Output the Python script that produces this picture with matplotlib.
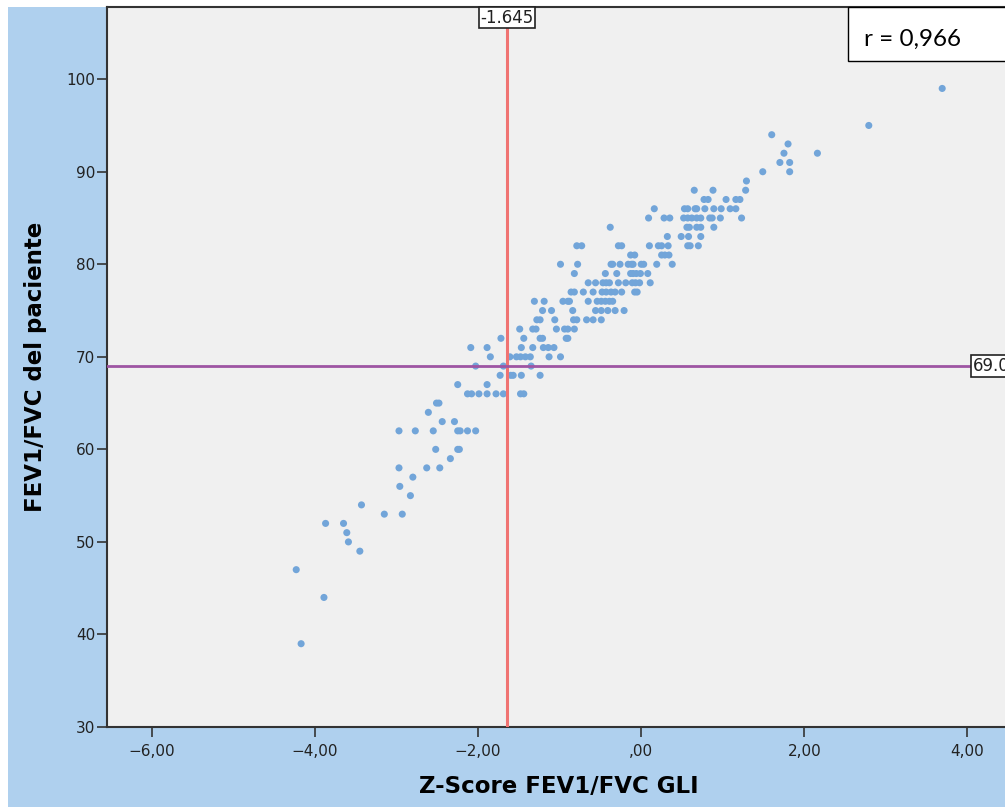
import numpy as np
import matplotlib
matplotlib.use('Agg')
import matplotlib.pyplot as plt
from matplotlib.patches import Rectangle

# FEV1/FVC del paciente: one entry per row of points
ratio_rows = [99, 95, 94, 93, 92, 91, 90, 89, 88, 87, 86, 85, 84, 83, 82, 81, 80,
              79, 78, 77, 76, 75, 74, 73, 72, 71, 70, 69, 68, 67, 66, 65, 64, 63,
              62, 60, 59, 58, 57, 56, 55, 54, 53, 52, 51, 50, 49, 47, 44, 39]
# Z-score FEV1/FVC GLI of the points in each row
z_rows = [
    [3.69],
    [2.79],
    [1.60],
    [1.80],
    [1.75, 2.16],
    [1.70, 1.82],
    [1.49, 1.82],
    [1.29],
    [0.65, 0.88, 1.28],
    [0.77, 0.82, 1.04, 1.16, 1.21],
    [0.16, 0.53, 0.57, 0.66, 0.68, 0.78, 0.89, 0.98, 1.09, 1.16],
    [0.09, 0.28, 0.35, 0.52, 0.57, 0.62, 0.68, 0.73, 0.84, 0.87, 0.97, 1.23],
    [-0.38, 0.56, 0.59, 0.68, 0.73, 0.89],
    [0.32, 0.49, 0.58, 0.73],
    [-0.79, -0.73, -0.28, -0.24, 0.10, 0.21, 0.25, 0.33, 0.57, 0.60, 0.70],
    [-0.13, -0.08, 0.25, 0.29, 0.34],
    [-0.99, -0.78, -0.37, -0.35, -0.26, -0.16, -0.12, -0.10, 0.00, 0.03, 0.19, 0.38],
    [-0.82, -0.44, -0.30, -0.13, -0.10, -0.06, -0.01, 0.08],
    [-0.65, -0.56, -0.47, -0.43, -0.39, -0.28, -0.19, -0.11, -0.07, -0.02, 0.11],
    [-0.86, -0.82, -0.71, -0.59, -0.48, -0.43, -0.37, -0.32, -0.24, -0.08, -0.05],
    [-1.31, -1.19, -0.96, -0.90, -0.88, -0.65, -0.54, -0.49, -0.44, -0.39, -0.35],
    [-1.21, -1.10, -0.84, -0.56, -0.49, -0.41, -0.32, -0.21],
    [-1.28, -1.24, -1.06, -0.83, -0.79, -0.67, -0.59, -0.49],
    [-1.49, -1.33, -1.29, -1.04, -0.94, -0.90, -0.82],
    [-1.72, -1.44, -1.24, -1.21, -0.92, -0.90],
    [-2.09, -1.89, -1.47, -1.33, -1.20, -1.14, -1.07],
    [-1.85, -1.61, -1.53, -1.48, -1.42, -1.36, -1.13, -0.99],
    [-2.03, -1.69, -1.35],
    [-1.73, -1.60, -1.57, -1.47, -1.24],
    [-2.25, -1.89],
    [-2.13, -2.08, -1.99, -1.89, -1.78, -1.69, -1.48, -1.44],
    [-2.51, -2.48],
    [-2.61],
    [-2.44, -2.29],
    [-2.97, -2.77, -2.55, -2.25, -2.22, -2.13, -2.03],
    [-2.52, -2.25, -2.23],
    [-2.34],
    [-2.97, -2.63, -2.47],
    [-2.80],
    [-2.96],
    [-2.83],
    [-3.43],
    [-3.15, -2.93],
    [-3.87, -3.65],
    [-3.61],
    [-3.59],
    [-3.45],
    [-4.23],
    [-3.89],
    [-4.17],
]

x_ticks = [-6, -4, -2, 0, 2, 4]
x_ticklabels = ['\u22126,00', '\u22124,00', '\u22122,00', ',00', '2,00', '4,00']
y_ticks = [30, 40, 50, 60, 70, 80, 90, 100]
z_cut = -1.645
ratio_cut = 69.0
r_text = 'r = 0,966'

z = []
ratio = []
for v, row in zip(ratio_rows, z_rows):
    z += row
    ratio += [v] * len(row)

W, H = 1005, 807
fig = plt.figure(figsize=(W / 100, H / 100), dpi=100)
fig.patch.set_facecolor('white')
# light blue chart background
fig.patches.append(Rectangle((8 / W, 0), 1, 800 / H, transform=fig.transFigure,
                             fc='#AFD0EE', ec='none', zorder=-5))

ax = fig.add_axes([107 / W, 80 / H, 898 / W, 720 / H])
ax.set_facecolor('#F0F0F0')
ax.scatter(z, ratio, s=26, c='#72A5D9', edgecolors='none', zorder=2)

ax.axvline(z_cut, color='#F07372', lw=2.2, zorder=3)
ax.axhline(ratio_cut, color='#9E55A3', lw=2.0, zorder=3)

box = dict(boxstyle='square,pad=0.1', fc='white', ec='#222222', lw=1.2)
ax.text(z_cut, 0.985, '-1.645', transform=ax.get_xaxis_transform(), ha='center',
        va='center', fontsize=12, color='#222222', bbox=box, zorder=5)
ax.text(4.06, ratio_cut, '69.0', ha='left', va='center', fontsize=12,
        color='#222222', bbox=box, zorder=5, clip_on=False)

ax.set_xlim(-6.55, 4.46)
ax.set_ylim(30, 107.8)
ax.set_xticks(x_ticks)
ax.set_xticklabels(x_ticklabels)
ax.set_yticks(y_ticks)
ax.set_yticklabels([str(t) for t in y_ticks])
ax.tick_params(direction='out', length=7, width=1.2, color='#333333',
               labelcolor='#222222', labelsize=11)
ax.tick_params(axis='y', pad=1.5)
ax.tick_params(axis='x', pad=5)
for s in ['left', 'bottom', 'top']:
    ax.spines[s].set_color('#333333')
    ax.spines[s].set_linewidth(1.5)
ax.spines['right'].set_visible(False)

ax.set_xlabel('Z-Score FEV1/FVC GLI', fontsize=16.5, fontweight='bold', va='center')
ax.xaxis.set_label_coords(0.503, -0.083)
ax.set_ylabel('FEV1/FVC del paciente', fontsize=16.5, fontweight='bold', va='center')
ax.yaxis.set_label_coords(-0.080, 0.5)

# correlation box in the top right corner
fig.patches.append(Rectangle((848 / W, (H - 61) / H), 200 / W, 54 / H,
                             transform=fig.transFigure, fc='white', ec='black',
                             lw=1.0, zorder=10))
fig.text(864 / W, (H - 39) / H, r_text, ha='left', va='center', fontsize=17.5,
         family=['Lato', 'DejaVu Sans'], zorder=11)

fig.savefig('out.png', dpi=100)
